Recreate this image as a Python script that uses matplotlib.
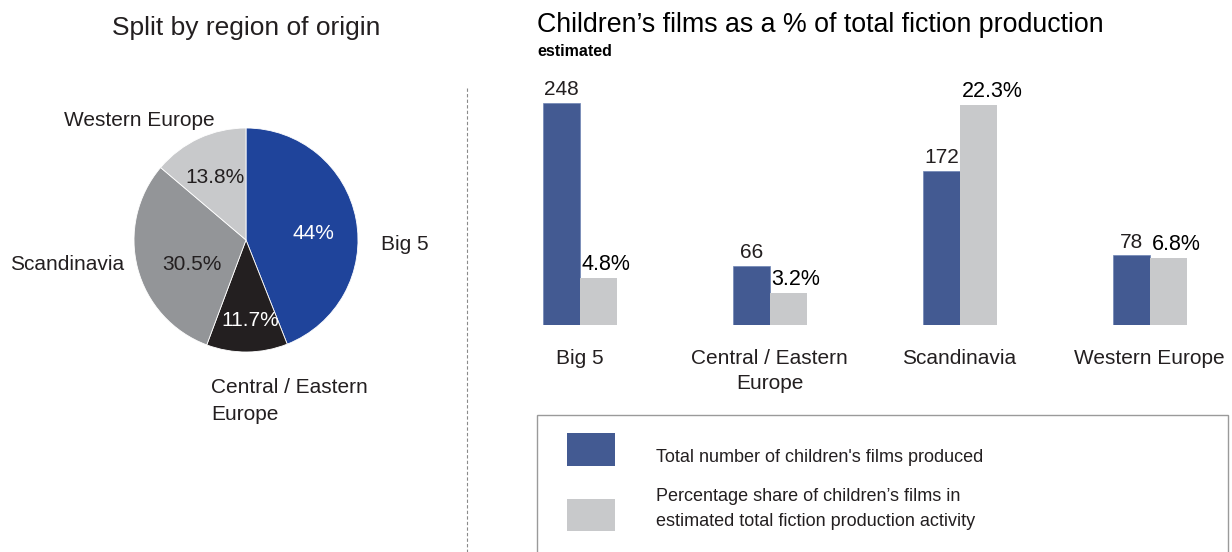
import numpy as np
import matplotlib
matplotlib.use('Agg')
import matplotlib.pyplot as plt
from matplotlib.patches import Rectangle
from matplotlib.lines import Line2D

plt.rcParams['font.family'] = ['Liberation Sans', 'DejaVu Sans']

# data
pie_labels = ['Big 5', 'Central / Eastern\nEurope', 'Scandinavia', 'Western Europe']
pie_share = [44.0, 11.7, 30.5, 13.8]
pie_pct_text = ['44%', '11.7%', '30.5%', '13.8%']

regions = ['Big 5', 'Central / Eastern\nEurope', 'Scandinavia', 'Western Europe']
films_count = [248, 66, 172, 78]
films_pct = [4.8, 3.2, 22.3, 6.8]

TXT = '#231f20'
PIE_COLORS = ['#1f449b', '#231f20', '#939598', '#c8c9cb']
BLUE = '#435a92'
GREY = '#c8c9cb'

W, H = 1232, 552
fig = plt.figure(figsize=(W / 100, H / 100), dpi=100)


def fx(x):
    return x / W


def fy(y):
    return 1 - y / H


# ---- left: pie ----
cx, cy, r = 246, 240, 112
ax_pie = fig.add_axes([fx(cx - r), fy(cy + r), 2 * r / W, 2 * r / H])
wedges, _ = ax_pie.pie(pie_share, colors=PIE_COLORS, startangle=90, counterclock=False,
                       wedgeprops=dict(edgecolor='white', linewidth=0.6))
ax_pie.set_xlim(-1, 1)
ax_pie.set_ylim(-1, 1)
ax_pie.set_aspect('auto')

# percentage labels inside the wedges (data units of the pie)
pct_pos = [(0.6, 0.06), (0.04, -0.72), (-0.48, -0.22), (-0.28, 0.56)]
pct_col = ['white', 'white', TXT, TXT]
for t, (px, py), c in zip(pie_pct_text, pct_pos, pct_col):
    ax_pie.text(px, py, t, ha='center', va='center', fontsize=15, color=c)

# outside labels
fig.text(fx(381), fy(244), pie_labels[0], ha='left', va='center', fontsize=15, color=TXT)
fig.text(fx(211), fy(378), pie_labels[1], ha='left', va='top', fontsize=15, color=TXT,
         linespacing=1.55)
fig.text(fx(10), fy(265), pie_labels[2], ha='left', va='center', fontsize=15, color=TXT)
fig.text(fx(64), fy(120), pie_labels[3], ha='left', va='center', fontsize=15, color=TXT)

fig.text(fx(246), fy(28), 'Split by region of origin', ha='center', va='center',
         fontsize=19, color=TXT)

# dashed divider
fig.add_artist(Line2D([fx(467), fx(467)], [fy(88), 0], transform=fig.transFigure,
                      color='#8a8a8a', lw=0.8, ls=(0, (3, 2))))

# ---- right: bars ----
x0_px, step = 579.5, 190
xl, xr = -0.3, 3.3
ax = fig.add_axes([fx(x0_px + xl * step), fy(325), (xr - xl) * step / W, 250.6 / H])
ax2 = ax.twinx()
x = np.arange(len(regions))
bw = 0.19
ax.bar(x - bw / 2, films_count, width=bw, color=BLUE, edgecolor='#6f84b4', linewidth=0.5)
ax2.bar(x + bw / 2 + 0.005, films_pct, width=bw, color=GREY, linewidth=0)
ax.set_xlim(xl, xr)
ax.set_ylim(0, 280)
ax2.set_ylim(0, 25.4)
for a in (ax, ax2):
    a.axis('off')

for xi, v in zip(x, films_count):
    ax.text(xi - bw / 2, v + 4, f'{v}', ha='center', va='bottom', fontsize=15, color=TXT)
for xi, v in zip(x, films_pct):
    ax2.text(xi + 0.01, v + 0.3, f'{v}%', ha='left', va='bottom', fontsize=15.5, color='black')
for xi, lab in zip(x, regions):
    ax.text(xi, -27, lab, ha='center', va='top', fontsize=15, color=TXT,
            linespacing=1.4)

fig.text(fx(537), fy(25), 'Children\u2019s films as a % of total fiction production',
         ha='left', va='center', fontsize=19.3, color='black')
fig.text(fx(537), fy(51), 'estimated', ha='left', va='center', fontsize=11.5,
         fontweight='bold', color='black')

# legend box
fig.add_artist(Rectangle((fx(537), fy(560)), (1228 - 537) / W, (560 - 415) / H,
                         transform=fig.transFigure, fill=False, edgecolor='#9a9a9a', lw=1))
fig.add_artist(Rectangle((fx(567), fy(466)), 48 / W, 33 / H, transform=fig.transFigure,
                         color=BLUE, lw=0))
fig.add_artist(Rectangle((fx(567), fy(531)), 48 / W, 32 / H, transform=fig.transFigure,
                         color=GREY, lw=0))
fig.text(fx(656), fy(457), "Total number of children's films produced", ha='left',
         va='center', fontsize=13, color=TXT)
fig.text(fx(656), fy(509), "Percentage share of children\u2019s films in\n"
         "estimated total fiction production activity", ha='left', va='center',
         fontsize=13, color=TXT, linespacing=1.6)

fig.savefig('out.png', dpi=100)
